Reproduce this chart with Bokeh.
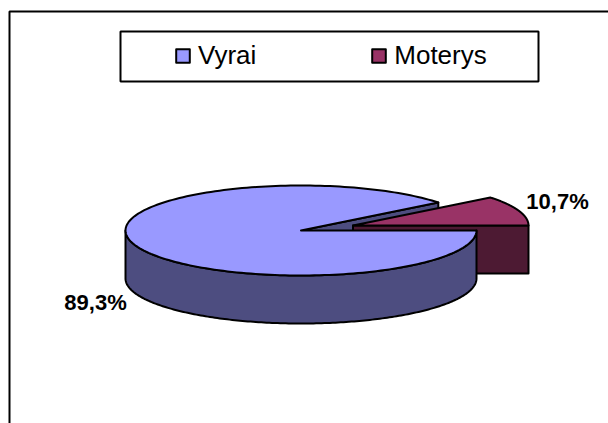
import numpy as np
from bokeh.plotting import figure
from bokeh.models import Range1d, Legend, LegendItem
from bokeh.core.properties import value
from bokeh.embed import file_html
from bokeh.resources import INLINE

categories = ["Vyrai", "Moterys"]
shares = [89.3, 10.7]
labels = ["89,3%", "10,7%"]
top_colors = ["#9999FF", "#993366"]
side_colors = ["#4D4D80", "#4D1A33"]

CX, CY, RX, RY, DEPTH = 300.5, 230.0, 175.5, 45.0, 48.0
EX, EY = 52.0, -5.0
OUT = dict(line_color="black", line_width=2, line_join="round")


def rim(cx, cy, a0, a1, n=200):
    t = np.radians(np.linspace(a0, a1, n))
    return cx + RX * np.cos(t), cy - RY * np.sin(t)


p = figure(width=608, height=423, output_backend="svg", toolbar_location=None,
           x_range=Range1d(0, 608), y_range=Range1d(423, 0),
           x_axis_type=None, y_axis_type=None, min_border=0,
           outline_line_color=None, background_fill_color="white")
p.grid.visible = False

# chart frame: the area runs off the right and the bottom of the page
p.line([608, 9, 9], [11, 11, 423], line_color="black", line_width=2)

# legend frame
p.quad(left=[120], right=[538], top=[31], bottom=[81], fill_color="white",
       line_color="black", line_width=2)

cut = shares[1] / sum(shares) * 360.0

# cut wall of the large slice, seen behind the pulled-out slice
bx, by = rim(CX, CY, cut, cut, 1)
p.patch([CX, bx[0], bx[0], CX], [CY, by[0], by[0] + DEPTH, CY + DEPTH],
        fill_color=side_colors[0], **OUT)

# pulled-out slice: wall, then top
mx, my = CX + EX, CY + EY
ax, ay = rim(mx, my, 0, cut)
p.patch([mx, ax[0], ax[0], mx], [my, my, my + DEPTH, my + DEPTH],
        fill_color=side_colors[1], **OUT)
r_small = p.patch(np.r_[mx, ax], np.r_[my, ay], fill_color=top_colors[1], **OUT)

# large slice: outer wall, then top
sx, sy = rim(CX, CY, 180, 360)
p.patch(np.r_[sx, sx[::-1]], np.r_[sy, sy[::-1] + DEPTH],
        fill_color=side_colors[0], **OUT)
tx, ty = rim(CX, CY, cut, 360)
r_big = p.patch(np.r_[CX, tx], np.r_[CY, ty], fill_color=top_colors[0], **OUT)

# value labels
p.text([95, 557], [302, 201], text=labels, text_font=value("Liberation Sans"),
       text_font_style="bold", text_font_size="22px", text_color="black",
       text_align="center", text_baseline="middle")

legend = Legend(
    items=[LegendItem(label=categories[0], renderers=[r_big]),
           LegendItem(label=categories[1], renderers=[r_small])],
    orientation="horizontal", location=(168, 352),
    label_text_font="Liberation Sans", label_text_font_size="26px",
    label_text_color="black", label_standoff=7,
    glyph_width=17, glyph_height=17, spacing=114, padding=8, margin=0,
    label_height=26, border_line_color=None,
    background_fill_alpha=0.0,
)
legend.location = (174, 352)
p.add_layout(legend, "center")

open("out.html", "w").write(file_html(p, INLINE))
